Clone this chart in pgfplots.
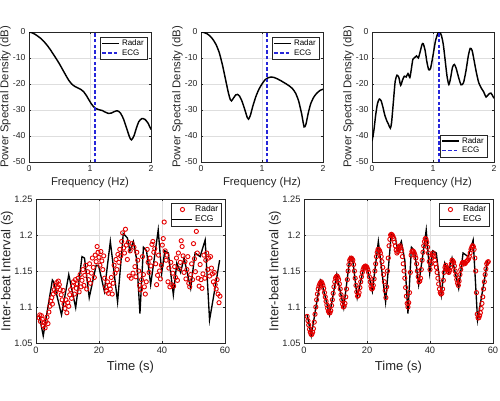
\documentclass[border=0pt]{standalone}
\usepackage{pgfplots}
\usepackage{pgfplotstable}
\pgfplotsset{compat=1.18}
\usepackage{fontspec}
\setmainfont{Liberation Sans}
\definecolor{axgray}{gray}{0.15}
\definecolor{gridgray}{gray}{0.87}
\definecolor{ecgblue}{rgb}{0.15,0.15,0.85}

\pgfplotstableread{
x y
0 0
0.05 -0.3
0.1 -0.9
0.15 -1.7
0.2 -2.6
0.25 -3.8
0.3 -5.2
0.35 -6.8
0.4 -8.6
0.45 -10.4
0.5 -12.3
0.55 -14.4
0.6 -16.5
0.65 -18.5
0.7 -20
0.75 -20.9
0.8 -21.5
0.85 -22.1
0.9 -23.1
0.95 -24.8
1.0 -26.8
1.05 -28.5
1.1 -29.5
1.15 -29.9
1.2 -30.2
1.25 -30.8
1.3 -31.3
1.35 -31.2
1.4 -30.6
1.45 -30.3
1.5 -31.2
1.55 -33.5
1.6 -37
1.65 -40.5
1.68 -41.5
1.72 -40
1.76 -37
1.8 -34.5
1.85 -33.3
1.9 -33.6
1.95 -35
2.0 -37.5
}\psdA

\pgfplotstableread{
x y
0 0
0.05 -0.2
0.1 -0.7
0.15 -1.6
0.2 -3
0.25 -5
0.3 -8
0.35 -12.5
0.4 -18
0.45 -23.5
0.48 -26
0.5 -26.5
0.53 -25.5
0.57 -24.2
0.6 -24
0.63 -24.6
0.67 -26.5
0.72 -30
0.76 -33
0.78 -33.5
0.81 -32
0.85 -28.5
0.9 -24.8
0.95 -22
1.0 -20
1.05 -18.4
1.1 -17.6
1.15 -17.3
1.2 -17.5
1.25 -18
1.3 -18.6
1.35 -19.3
1.4 -20
1.45 -20.8
1.5 -21.8
1.55 -23.5
1.6 -26.5
1.65 -31.5
1.69 -36.5
1.72 -35.5
1.76 -31
1.8 -27.5
1.85 -25
1.9 -23.5
1.95 -22.5
2.0 -22
}\psdB

\pgfplotstableread{
x y
0 -42
0.03 -38
0.06 -32
0.09 -27.5
0.12 -25.8
0.15 -26.5
0.18 -29
0.21 -32
0.24 -34
0.27 -35.5
0.3 -37
0.32 -35
0.35 -27
0.38 -19
0.41 -16.6
0.44 -17.5
0.47 -20.5
0.5 -18.5
0.53 -17
0.56 -17.3
0.59 -16
0.62 -17.5
0.64 -15
0.67 -10.5
0.7 -9.8
0.73 -9.2
0.76 -10
0.79 -7.5
0.82 -4.8
0.84 -4.5
0.87 -7
0.9 -11.5
0.93 -14.5
0.96 -14
1.0 -9
1.04 -3.5
1.08 -0.5
1.11 0
1.14 -1.5
1.17 -5
1.2 -11
1.23 -17
1.26 -20.2
1.29 -17.5
1.32 -13.5
1.35 -12.5
1.38 -14
1.42 -17.5
1.46 -20.3
1.5 -19.5
1.54 -15
1.58 -9
1.61 -6.3
1.64 -7
1.67 -10.5
1.71 -15.5
1.75 -19.5
1.79 -21.5
1.83 -23
1.87 -25
1.91 -24
1.95 -23.5
2.0 -25.5
}\psdC

\pgfplotstableread{
t v
1.0 1.089
2.3 1.060
5.2 1.1375
5.6 1.135
8.1 1.089
10.4 1.145
12.6 1.099
14.6 1.170
15.4 1.168
16.9 1.113
19.1 1.158
19.9 1.157
21.7 1.122
23.6 1.191
25.9 1.107
27.7 1.202
29.0 1.196
29.8 1.178
30.9 1.191
32.0 1.165
33.0 1.091
34.1 1.183
35.1 1.178
36.4 1.131
37.8 1.175
38.8 1.207
39.9 1.147
40.9 1.178
42.0 1.175
43.6 1.117
44.7 1.161
45.9 1.148
47.0 1.168
49.1 1.126
50.5 1.175
52.1 1.170
53.7 1.193
55.1 1.082
56.9 1.128
58.3 1.165
}\ecg

\pgfplotstableread{
t v
1.0 1.085
1.2 1.089
1.4 1.080
1.7 1.088
2.0 1.083
2.3 1.074
2.6 1.078
2.9 1.071
3.2 1.080
3.5 1.086
3.8 1.077
4.1 1.093
4.4 1.101
4.7 1.108
5.0 1.113
5.2 1.104
5.5 1.118
5.8 1.124
6.1 1.130
6.3 1.121
6.6 1.134
6.9 1.128
7.1 1.136
7.4 1.131
7.7 1.124
8.0 1.117
8.3 1.110
8.6 1.123
8.9 1.104
9.2 1.098
9.5 1.110
9.8 1.092
10.1 1.106
10.4 1.101
10.7 1.117
11.0 1.124
11.3 1.112
11.6 1.129
11.9 1.135
12.2 1.118
12.5 1.138
12.8 1.126
13.1 1.132
13.4 1.140
13.7 1.121
14.0 1.145
14.3 1.128
14.6 1.137
14.9 1.152
15.2 1.130
15.5 1.144
15.8 1.158
16.1 1.125
16.4 1.149
16.7 1.138
17.0 1.160
17.3 1.133
17.6 1.147
17.9 1.168
18.2 1.155
18.5 1.141
18.8 1.172
19.1 1.163
19.4 1.184
19.7 1.176
20.0 1.169
20.3 1.158
20.6 1.177
20.9 1.164
21.2 1.152
21.5 1.171
21.8 1.140
22.1 1.128
22.4 1.122
22.7 1.135
23.0 1.119
23.3 1.130
23.6 1.125
23.9 1.141
24.2 1.118
24.5 1.133
24.8 1.158
25.1 1.147
25.4 1.166
25.7 1.152
26.0 1.173
26.3 1.162
26.6 1.180
26.9 1.171
27.2 1.191
27.5 1.203
27.8 1.182
28.1 1.175
28.4 1.208
28.7 1.186
29.0 1.166
29.3 1.190
29.6 1.143
29.9 1.178
30.2 1.140
30.5 1.188
30.8 1.147
31.1 1.183
31.4 1.156
31.7 1.142
32.0 1.176
32.3 1.165
32.6 1.150
32.9 1.130
33.2 1.124
33.5 1.138
33.8 1.170
34.1 1.145
34.4 1.128
34.7 1.118
35.0 1.135
35.3 1.180
35.6 1.162
35.9 1.148
36.2 1.168
36.5 1.157
36.8 1.187
37.1 1.191
37.4 1.176
37.7 1.181
38.0 1.160
38.3 1.131
38.6 1.144
38.9 1.172
39.2 1.150
39.5 1.139
39.8 1.158
40.1 1.186
40.4 1.195
40.7 1.218
41.0 1.178
41.3 1.165
41.6 1.172
41.9 1.135
42.2 1.154
42.5 1.128
42.8 1.162
43.1 1.131
43.4 1.147
43.7 1.129
44.0 1.156
44.3 1.141
44.6 1.168
44.9 1.137
45.2 1.175
45.5 1.153
45.8 1.162
46.1 1.192
46.4 1.184
46.7 1.171
47.0 1.148
47.3 1.163
47.6 1.139
47.9 1.152
48.2 1.170
48.5 1.133
48.8 1.128
49.1 1.145
49.4 1.160
49.7 1.138
50.0 1.188
50.3 1.167
50.6 1.149
50.9 1.205
51.2 1.175
51.5 1.140
51.8 1.129
52.1 1.159
52.4 1.138
52.7 1.126
53.0 1.146
53.3 1.172
53.6 1.140
53.9 1.165
54.2 1.175
54.5 1.152
54.8 1.168
55.1 1.143
55.4 1.170
55.7 1.154
56.0 1.146
56.3 1.135
56.6 1.148
56.9 1.131
57.2 1.125
57.5 1.138
57.8 1.118
58.1 1.106
58.4 1.115
}\radarA

\pgfplotstableread{
t v
1.0 1.087
1.25 1.081
1.5 1.075
1.75 1.069
2.0 1.065
2.25 1.062
2.5 1.062
2.75 1.065
3.0 1.070
3.25 1.079
3.5 1.090
3.75 1.100
4.0 1.110
4.25 1.118
4.5 1.125
4.75 1.129
5.0 1.132
5.25 1.134
5.5 1.135
5.75 1.133
6.0 1.130
6.25 1.126
6.5 1.120
6.75 1.114
7.0 1.108
7.25 1.103
7.5 1.098
7.75 1.094
8.0 1.092
8.25 1.092
8.5 1.095
8.75 1.102
9.0 1.110
9.25 1.119
9.5 1.128
9.75 1.135
10.0 1.140
10.25 1.142
10.5 1.143
10.75 1.141
11.0 1.138
11.25 1.132
11.5 1.125
11.75 1.117
12.0 1.110
12.25 1.104
12.5 1.100
12.75 1.101
13.0 1.105
13.25 1.114
13.5 1.125
13.75 1.138
14.0 1.150
14.25 1.159
14.5 1.165
14.75 1.167
15.0 1.168
15.25 1.167
15.5 1.165
15.75 1.159
16.0 1.150
16.25 1.140
16.5 1.130
16.75 1.121
17.0 1.115
17.25 1.116
17.5 1.120
17.75 1.127
18.0 1.135
18.25 1.142
18.5 1.148
18.75 1.152
19.0 1.155
19.25 1.156
19.5 1.157
19.75 1.156
20.0 1.155
20.25 1.152
20.5 1.148
20.75 1.142
21.0 1.135
21.25 1.129
21.5 1.125
21.75 1.126
22.0 1.130
22.25 1.139
22.5 1.150
22.75 1.160
23.0 1.170
23.25 1.176
23.5 1.180
23.75 1.180
24.0 1.178
24.25 1.175
24.5 1.170
24.75 1.163
25.0 1.155
25.25 1.145
25.5 1.135
25.75 1.123
26.0 1.113
26.25 1.128
26.5 1.150
26.75 1.168
27.0 1.185
27.25 1.194
27.5 1.200
27.75 1.201
28.0 1.200
28.25 1.198
28.5 1.195
28.75 1.190
29.0 1.185
29.25 1.179
29.5 1.175
29.75 1.177
30.0 1.180
30.25 1.183
30.5 1.185
30.75 1.182
31.0 1.178
31.25 1.170
31.5 1.160
31.75 1.150
32.0 1.140
32.25 1.127
32.5 1.115
32.75 1.105
33.0 1.100
33.25 1.106
33.5 1.120
33.75 1.148
34.0 1.172
34.25 1.177
34.5 1.178
34.75 1.177
35.0 1.175
35.25 1.172
35.5 1.168
35.75 1.160
36.0 1.150
36.25 1.142
36.5 1.135
36.75 1.136
37.0 1.140
37.25 1.152
37.5 1.165
37.75 1.176
38.0 1.185
38.25 1.191
38.5 1.195
38.75 1.194
39.0 1.190
39.25 1.183
39.5 1.175
39.75 1.163
40.0 1.152
40.25 1.160
40.5 1.168
40.75 1.172
41.0 1.175
41.25 1.171
41.5 1.165
41.75 1.160
42.0 1.155
42.25 1.148
42.5 1.140
42.75 1.132
43.0 1.125
43.25 1.120
43.5 1.118
43.75 1.119
44.0 1.125
44.25 1.137
44.5 1.148
44.75 1.155
45.0 1.158
45.25 1.155
45.5 1.152
45.75 1.149
46.0 1.148
46.25 1.151
46.5 1.155
46.75 1.160
47.0 1.165
47.25 1.164
47.5 1.162
47.75 1.157
48.0 1.150
48.25 1.144
48.5 1.138
48.75 1.133
49.0 1.130
49.25 1.136
49.5 1.145
49.75 1.152
50.0 1.158
50.25 1.161
50.5 1.162
50.75 1.161
51.0 1.160
51.25 1.161
51.5 1.163
51.75 1.164
52.0 1.165
52.25 1.167
52.5 1.170
52.75 1.175
53.0 1.180
53.25 1.183
53.5 1.185
53.75 1.184
54.0 1.180
54.25 1.168
54.5 1.150
54.75 1.120
55.0 1.090
55.25 1.085
55.5 1.085
55.75 1.088
56.0 1.092
56.25 1.098
56.5 1.105
56.75 1.114
57.0 1.125
57.25 1.135
57.5 1.145
57.75 1.153
58.0 1.160
58.25 1.162
58.5 1.163
}\radarB

\pgfplotsset{
  mat/.style={
    scale only axis, anchor=south west,
    axis line style={axgray, line width=0.5pt},
    tick style={axgray, line width=0.5pt},
    major tick length=2pt,
    tick align=inside,
    grid=major,
    grid style={gridgray, line width=0.4pt},
    ticklabel style={axgray},
    label style={axgray},
    /pgf/number format/assume math mode=true,
    legend cell align=left,
  },
  toppanel/.style={
    mat, width=122pt, height=130pt,
    xmin=0, xmax=2, ymin=-50, ymax=0,
    xtick={0,1,2}, xticklabels={0,1,2},
    ytick={-50,-40,-30,-20,-10,0}, yticklabels={-50,-40,-30,-20,-10,0},
    ticklabel style={font=\fontsize{8.7}{9}\selectfont},
    xlabel={Frequency (Hz)}, ylabel={Power Spectral Density (dB)},
    label style={font=\fontsize{11.3}{12}\selectfont},
    xlabel style={at={(axis description cs:0.5,-0.159)}, anchor=center},
    ylabel style={at={(axis description cs:-0.193,0.5)}, anchor=center},
    legend style={font=\fontsize{8}{8.5}\selectfont, draw=axgray, fill=white,
      inner xsep=1pt, inner ysep=0.5pt, row sep=-1.5pt},
  },
  botpanel/.style={
    mat, width=189pt, height=144pt,
    xmin=0, xmax=60, ymin=1.05, ymax=1.25,
    xtick={0,20,40,60}, xticklabels={0,20,40,60},
    ytick={1.05,1.1,1.15,1.2,1.25}, yticklabels={1.05,1.1,1.15,1.2,1.25},
    ticklabel style={font=\fontsize{9.3}{10}\selectfont},
    xlabel={Time (s)}, ylabel={Inter-beat Interval (s)},
    label style={font=\fontsize{13}{14}\selectfont},
    xlabel style={at={(axis description cs:0.5,-0.165)}, anchor=center},
    ylabel style={at={(axis description cs:-0.153,0.5)}, anchor=center},
    legend style={font=\fontsize{8.5}{9}\selectfont, draw=axgray, fill=white,
      inner xsep=1pt, inner ysep=0.5pt, row sep=-1.5pt,
      at={(1,1)}, anchor=north east, xshift=-3.5pt, yshift=-4pt},
  },
  radarline/.style={black, line width=1.45pt, smooth, tension=0.4},
  ecgdash/.style={ecgblue, line width=1.4pt, dash pattern=on 3.5pt off 2.2pt},
  radarmk/.style={only marks, mark=o, mark size=2.1pt, red!90!black, line width=0.9pt,
    legend image code/.code={\draw[mark repeat=2,mark phase=2,##1] plot coordinates {(0pt,0pt) (10pt,0pt) (20pt,0pt)};}},
  ecgline/.style={black, line width=1.35pt, mark=none,
    legend image code/.code={\draw[##1] (0pt,0pt) -- (20pt,0pt);}},
}

\begin{document}
\begin{tikzpicture}
\path[use as bounding box] (0pt,0pt) rectangle (500pt,400pt);

\begin{axis}[toppanel, at={(29pt,238pt)},
  legend style={at={(1,1)}, anchor=north east, xshift=-4pt, yshift=-5pt}]
\addplot[radarline] table[x=x,y=y] {\psdA};
\addlegendentry{Radar}
\addplot[ecgdash] coordinates {(1.08,-50) (1.08,0)};
\addlegendentry{ECG}
\end{axis}

\begin{axis}[toppanel, at={(201pt,238pt)},
  legend style={at={(1,1)}, anchor=north east, xshift=-4pt, yshift=-5pt}]
\addplot[radarline] table[x=x,y=y] {\psdB};
\addlegendentry{Radar}
\addplot[ecgdash] coordinates {(1.08,-50) (1.08,0)};
\addlegendentry{ECG}
\end{axis}

\begin{axis}[toppanel, at={(372pt,238pt)},
  legend style={at={(1,0)}, anchor=south east, xshift=-7pt, yshift=5pt}]
\addplot[radarline] table[x=x,y=y] {\psdC};
\addlegendentry{Radar}
\addplot[ecgdash] coordinates {(1.1,-50) (1.1,0)};
\addlegendentry{ECG}
\end{axis}

\begin{axis}[botpanel, at={(36pt,57pt)}]
\addplot[radarmk] table[x=t,y=v] {\radarA};
\addlegendentry{Radar}
\addplot[ecgline] table[x=t,y=v] {\ecg};
\addlegendentry{ECG}
\end{axis}

\begin{axis}[botpanel, at={(304pt,57pt)}]
\addplot[radarmk] table[x=t,y=v] {\radarB};
\addlegendentry{Radar}
\addplot[ecgline] table[x=t,y=v] {\ecg};
\addlegendentry{ECG}
\end{axis}
\end{tikzpicture}
\end{document}
